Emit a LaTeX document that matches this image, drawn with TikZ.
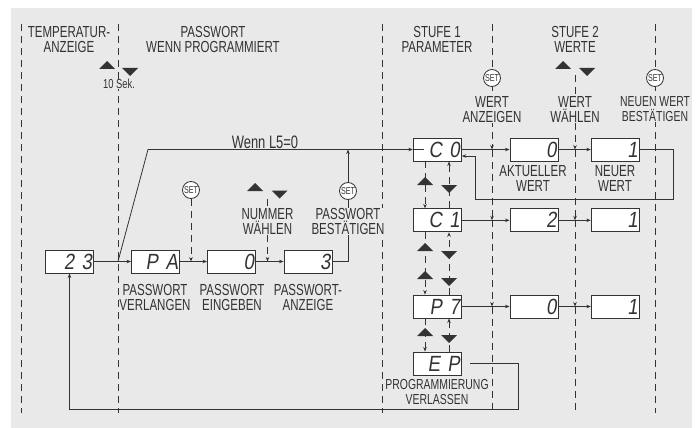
\documentclass[tikz,border=0pt]{standalone}
\usepackage{fontspec}
\usepackage{xcolor}
\setmainfont[FakeStretch=0.72]{Liberation Sans}
\newfontfamily\segfont[FakeSlant=0.15,FakeStretch=0.85]{Liberation Sans}
\usetikzlibrary{arrows.meta,positioning}
\definecolor{panel}{HTML}{E9E9E9}
\definecolor{ink}{HTML}{333333}
\tikzset{
wire/.style={draw=ink,line width=0.8pt},
flow/.style={wire,-{Stealth[length=4.5pt,width=3.5pt]}},
phase/.style={draw=ink,line width=0.8pt,dash pattern=on 7pt off 5pt},
hint/.style={phase,-{Stealth[length=4.5pt,width=3.5pt]}},
disp/.style={draw=ink,fill=white,line width=0.9pt,minimum width=48pt,minimum height=23pt,inner ysep=3.5pt,inner xsep=1.5pt,
text width=45pt,align=right,text height=15pt,text depth=0pt,font=\segfont\fontsize{22}{22}\selectfont,text=ink},
lab/.style={fill=panel,inner sep=0pt,align=center,text=ink,font=\fontsize{16}{15}\selectfont},
setkey/.style={circle,draw=ink,fill=white,line width=0.8pt,minimum size=17pt,inner sep=0pt,text=ink,font=\fontsize{10}{10}\selectfont},
upkey/.pic={\fill[ink](-8,4)--(8,4)--(0,-4)--cycle;},
downkey/.pic={\fill[ink](-8,-4)--(8,-4)--(0,4)--cycle;}
}
\begin{document}
\begin{tikzpicture}[x=1pt,y=-1pt]
\useasboundingbox(0,0)rectangle(699,428);
\fill[panel](11,8)rectangle(692,428);
% phases
\draw[phase](21.5,24)--(21.5,413);
\draw[phase](118,24)--(118,413);
\draw[phase](382,24)--(382,413);
\draw[phase](655,24)--(655,413);
\coordinate(top4)at(492,24);
\coordinate(top5)at(575,75);
\node[disp](d23)at(69.5,261.5){2 3};
\node[disp](dPA)at(155.5,261.5){P A};
\node[disp](dNull)at(231.5,261.5){0};
\node[disp](dDrei)at(308,261.5){3};
\node[disp](cNull)at(437.3,149.5){C 0};
\node[disp](aNull)at(534,149.5){0};
\node[disp](nNull)at(615.3,149.5){1};
\node[disp](cEins)at(437.3,220.3){C 1};
\node[disp](aEins)at(534,220.3){2};
\node[disp](nEins)at(615.3,220.3){1};
\node[disp](pSieben)at(437.3,306.5){P 7};
\node[disp](aSieben)at(534,306.5){0};
\node[disp](nSieben)at(615.3,306.5){1};
\node[disp](dEP)at(437.3,363.5){E P};
% value column hints
\coordinate(w1)at(492,149.5);
\coordinate(w2)at(492,220.3);
\coordinate(w3)at(492,306.5);
\coordinate(v1)at(575,149.5);
\coordinate(v2)at(575,220.3);
\coordinate(v3)at(575,306.5);
\draw[hint](top4)--(w1);
\draw[hint](w1)--(w2);
\draw[hint](w2)--(w3);
\draw[phase](w3)--(492,413);
\draw[hint](top5)--(v1);
\draw[hint](v1)--(v2);
\draw[hint](v2)--(v3);
\draw[phase](v3)--(575,413);
% main flow
\coordinate(fork)at(118,261.5);
\coordinate(knee)at(148,149.5);
\coordinate(riser)at(348,261.5);
\coordinate(join)at(348,149.5);
\draw[flow](d23)--(dPA);
\draw[flow](dPA)--(dNull);
\draw[flow](dNull)--(dDrei);
\draw[wire](dDrei)--(riser);
\draw[flow](riser)--(join);
\draw[wire](fork)--(knee)--(join);
\draw[flow](join)--(cNull);
\draw[wire](cNull.west)--(424,149.5);
\draw[flow](cNull)--(aNull);
\draw[flow](aNull)--(nNull);
\draw[flow](nNull.east)--(673,149.5)--(673,199)--(475.5,199)--(475.5,156)--(cNull.east|-0,156);
\draw[flow](cEins)--(aEins);
\draw[flow](aEins)--(nEins);
\draw[flow](pSieben)--(aSieben);
\draw[flow](aSieben)--(nSieben);
\coordinate(epOut)at(470,363.5);
\draw[flow](epOut)--(518.3,363.5)--(518.3,409.3)--(69.5,409.3)--(d23.south);
% parameter column
\draw[hint](cNull.south-|425,0)--(cEins.north-|425,0);
\draw[hint](cEins.north-|449,0)--(cNull.south-|449,0);
\draw[hint](cEins.south-|425,0)--(pSieben.north-|425,0);
\draw[hint](pSieben.north-|449,0)--(cEins.south-|449,0);
\draw[hint](pSieben.south-|425,0)--(dEP.north-|425,0);
\draw[hint](dEP.north-|449,0)--(pSieben.south-|449,0);
\path(425,181)pic{upkey}(449,189)pic{downkey}
(425,247)pic{upkey}(449,255)pic{downkey}
(425,275)pic{upkey}(449,282)pic{downkey}
(425,332)pic{upkey}(449,339)pic{downkey};
% password hints
\node[setkey](setPW)at(191,190){SET};
\draw[hint](setPW)--(setPW|-dPA);
\coordinate(numTop)at(267.5,199);
\draw[hint](numTop)--(numTop|-dNull);
\path(255,187)pic{upkey}(279.5,194.5)pic{downkey}
(107,65)pic{upkey}(130,72)pic{downkey}
(563,65)pic{upkey}(587,72)pic{downkey};
\node[lab](lNum)at(267.5,221.5){NUMMER\\WÄHLEN};
\node[lab](lBest)at(348,221.5){PASSWORT\\BESTÄTIGEN};
\node[setkey](setBest)at(348,191){SET};
\node[setkey](setWert)at(492,78){SET};
\node[setkey](setNeu)at(655,78){SET};
% titles
\node[lab](lTemp)at(69,39.5){TEMPERATUR-\\ANZEIGE};
\node[lab](lPass)at(213,39.5){PASSWORT\\WENN PROGRAMMIERT};
\node[lab](lStufeA)at(437,39.5){STUFE 1\\PARAMETER};
\node[lab](lStufeB)at(575,39.5){STUFE 2\\WERTE};
\node[lab,font=\fontsize{13}{13}\selectfont](lSek)at(119,84){10 Sek.};
\node[lab](lAnz)at(492,109.5){WERT\\ANZEIGEN};
\node[lab](lWah)at(575,109.5){WERT\\WÄHLEN};
\node[lab,font=\fontsize{14.5}{15}\selectfont](lNeu)at(655,109.5){NEUEN WERT\\BESTÄTIGEN};
\node[lab](lAkt)at(533,178.5){AKTUELLER\\WERT};
\node[lab](lNeuW)at(615,178.5){NEUER\\WERT};
\node[lab](lVer)at(155,297){PASSWORT\\VERLANGEN};
\node[lab](lEin)at(232,297){PASSWORT\\EINGEBEN};
\node[lab](lAnzg)at(308,297){PASSWORT-\\ANZEIGE};
\node[lab,font=\fontsize{14.5}{15}\selectfont](lProg)at(437,392.5){PROGRAMMIERUNG\\VERLASSEN};
\node[lab,fill=none,font=\fontsize{18}{18}\selectfont](lWenn)at(265,142){Wenn L5=0};
\end{tikzpicture}
\end{document}
